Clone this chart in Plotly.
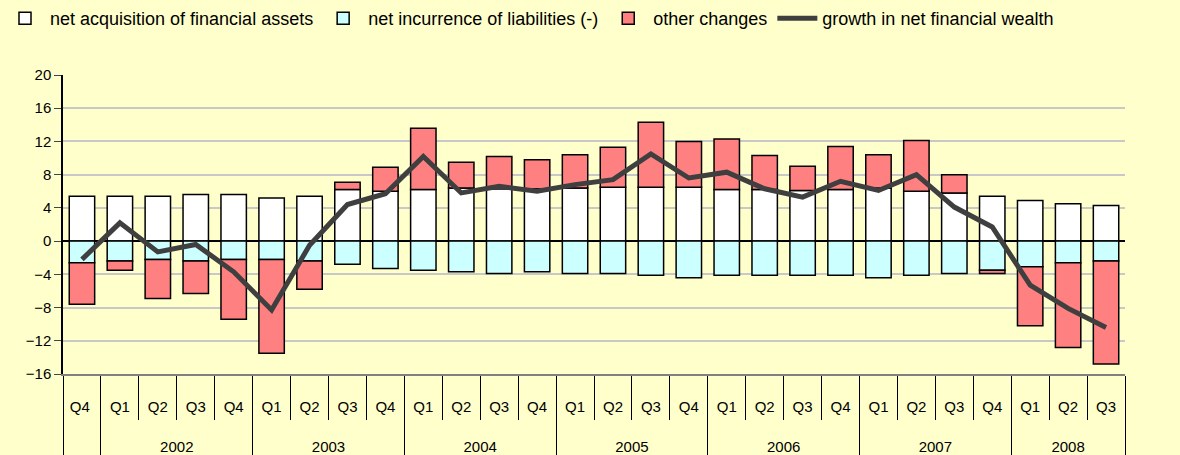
import plotly.graph_objects as go

#?  Data (percent, annual growth contributions)
years    = [" "] + ["2002"] * 4 + ["2003"] * 4 + ["2004"] * 4 + ["2005"] * 4 + ["2006"] * 4 + ["2007"] * 4 + ["2008"] * 3
# first Q4 (2001) gets a trailing space so multicategory keeps Q1..Q4 order inside each year
quarters = ["Q4 "] + ["Q1", "Q2", "Q3", "Q4"] * 6 + ["Q1", "Q2", "Q3"]

assets      = [5.4, 5.4, 5.4, 5.6, 5.6, 5.2, 5.4, 6.2, 6.0, 6.2, 6.4, 6.3, 6.3, 6.4, 6.5,
               6.5, 6.5, 6.2, 6.2, 6.1, 6.2, 6.4, 6.0, 5.8, 5.4, 4.9, 4.5, 4.3]
liabilities = [-2.6, -2.4, -2.2, -2.4, -2.2, -2.2, -2.4, -2.8, -3.3, -3.5, -3.7, -3.9, -3.7, -3.9, -3.9,
               -4.1, -4.4, -4.1, -4.1, -4.1, -4.1, -4.4, -4.1, -3.9, -3.5, -3.1, -2.6, -2.4]
other       = [-5.0, -1.1, -4.7, -3.9, -7.2, -11.3, -3.4, 0.9, 2.9, 7.4, 3.1, 3.9, 3.5, 4.0, 4.8,
               7.8, 5.5, 6.1, 4.1, 2.9, 5.2, 4.0, 6.1, 2.2, -0.4, -7.1, -10.2, -12.4]
net_growth  = [-2.2, 2.2, -1.3, -0.4, -3.7, -8.3, -0.5, 4.4, 5.7, 10.2, 5.8, 6.6, 6.0, 6.8, 7.4,
               10.5, 7.6, 8.3, 6.3, 5.3, 7.2, 6.1, 8.0, 4.1, 1.7, -5.3, -8.1, -10.4]

x = [["<br><br>" + y for y in years], quarters]
bar_line = dict(color="black", width=1.5)
font = dict(family="Liberation Sans, Arial, sans-serif", size=15, color="black")
legend_font = dict(family="Liberation Sans, Arial, sans-serif", size=18, color="black")

fig = go.Figure()
fig.add_trace(go.Bar(x=x, y=assets, name="net acquisition of financial assets",
                     marker=dict(color="white", line=bar_line)))
fig.add_trace(go.Bar(x=x, y=liabilities, name="net incurrence of liabilities (-)",
                     marker=dict(color="#CCFFFF", line=bar_line)))
fig.add_trace(go.Bar(x=x, y=other, name="other changes",
                     marker=dict(color="#FF8080", line=bar_line)))
fig.add_trace(go.Scatter(x=x, y=net_growth, name="growth in net financial wealth", mode="lines",
                         line=dict(color="#3F3F3F", width=5)))

yax = dict(range=[-16, 20], tickvals=list(range(-16, 21, 4)), ticks="outside", ticklen=7,
           showline=True, linecolor="black", linewidth=1.5, tickfont=font)

fig.update_layout(
    barmode="relative", bargap=0.33,
    width=1180, height=455,
    margin=dict(l=63, r=55, t=75, b=81, autoexpand=False),
    paper_bgcolor="#FFFFCC", plot_bgcolor="#FFFFCC",
    font=font,
    showlegend=True,
    legend=dict(orientation="h", x=0, xref="container", y=1.0, yref="container",
                xanchor="left", yanchor="top", font=legend_font, bgcolor="rgba(0,0,0,0)",
                traceorder="normal", itemwidth=40),
    xaxis=dict(type="multicategory", showline=True, linecolor="#808080", linewidth=1.5,
               ticks="outside", ticklen=44, tickcolor="black", tickfont=font, ticklabelstandoff=18,
               showdividers=True, dividercolor="black", dividerwidth=1),
    yaxis=dict(**yax, showgrid=True, gridcolor="#C8C8C8", gridwidth=1.5,
               zeroline=True, zerolinecolor="black", zerolinewidth=2),
    yaxis2=dict(**yax, overlaying="y", side="right", showgrid=False, zeroline=False),
)

fig.write_html("out.html", config={"displayModeBar": False},
               post_script="document.body.style.margin='0';")
